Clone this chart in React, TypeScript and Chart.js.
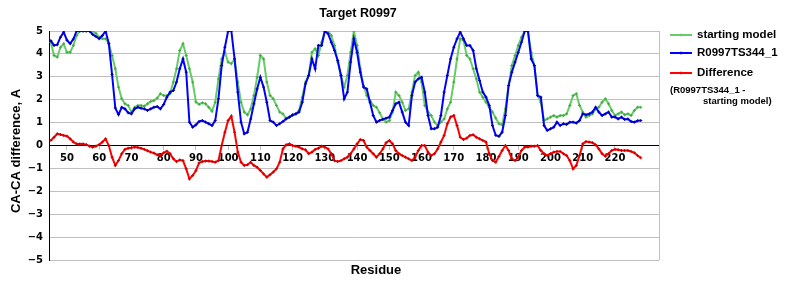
import React, { useEffect, useRef } from 'react';
import { Chart, registerables } from 'chart.js';

Chart.register(...registerables);

const CHART_TITLE = 'Target R0997';
const Y_TITLE = 'CA-CA difference, A';
const X_TITLE = 'Residue';
const FIRST_RESIDUE = 45;

const startingModel = [
  4.5, 3.93, 3.86, 4.29, 4.44, 4.07, 4.07, 4.37, 4.8, 5,
  5, 5, 5, 5, 4.9, 4.73, 4.66, 4.66, 4.44, 3.93,
  3.35, 2.55, 2.04, 1.82, 1.75, 1.46, 1.67, 1.75, 1.75, 1.72,
  1.82, 1.92, 1.96, 2.07, 2.26, 2.18, 2.18, 2.26, 2.77, 3.35,
  4.15, 4.44, 3.93, 3.35, 2.77, 1.9, 1.8, 1.86, 1.82, 1.67,
  1.5, 1.89, 2.91, 3.78, 4.07, 3.64, 3.57, 3.78, 2.77, 1.89,
  1.46, 1.34, 1.6, 2.18, 2.98, 3.93, 3.78, 2.77, 2.18, 2.04,
  1.75, 1.46, 1.38, 1.19, 1.24, 1.31, 1.38, 1.53, 2.11, 2.77,
  3.06, 4.07, 4.22, 3.93, 4.51, 5, 5, 4.8, 4.37, 3.64,
  3.06, 2.55, 3.06, 4.07, 5, 4.37, 3.35, 2.62, 2.18, 1.96,
  1.75, 1.67, 1.43, 1.16, 1.02, 1.09, 1.46, 2.33, 2.18, 1.89,
  1.53, 1.6, 2.33, 3.06, 3.2, 2.77, 1.75, 1.46, 1.31, 1.02,
  0.87, 1.02, 1.16, 1.6, 1.89, 2.77, 3.78, 4.66, 4.59, 3.93,
  3.78, 3.35, 2.91, 2.33, 2.11, 1.89, 1.67, 1.46, 1.2, 0.95,
  0.9, 1.6, 2.62, 3.49, 3.93, 4.37, 4.73, 5, 5, 4.07,
  3.49, 2.18, 1.89, 1.09, 1.16, 1.24, 1.31, 1.24, 1.31, 1.31,
  1.38, 1.75, 2.18, 2.26, 1.75, 1.46, 1.24, 1.31, 1.38, 1.6,
  1.67, 1.89, 2.04, 1.82, 1.53, 1.31, 1.38, 1.46, 1.34, 1.38,
  1.31, 1.53, 1.67, 1.67,
];

const model = [
  4.58, 4.37, 4.4, 4.73, 4.95, 4.6, 4.45, 4.65, 5, 5,
  5, 5, 5, 4.85, 4.76, 4.66, 4.8, 5, 4.45, 3.1,
  1.64, 1.35, 1.67, 1.6, 1.43, 1.38, 1.6, 1.67, 1.63, 1.6,
  1.53, 1.6, 1.67, 1.7, 1.6, 1.79, 2.11, 2.33, 2.4, 2.77,
  3.35, 3.78, 3.2, 1.02, 0.8, 0.9, 1.05, 1.09, 1.02, 0.95,
  0.87, 1.09, 2.04, 3.49, 4.29, 5, 5, 3.78, 2.33, 1.02,
  0.51, 0.58, 1.16, 1.82, 2.47, 2.98, 2.55, 1.89, 1.09, 1.02,
  0.87, 0.95, 1.05, 1.16, 1.24, 1.34, 1.38, 1.46, 1.89, 2.69,
  3.06, 3.78, 3.35, 4.37, 4.37, 5, 4.88, 4.51, 4.15, 3.71,
  3.06, 2.04, 2.33, 3.64, 4.66, 4.07, 3.2, 2.55, 2.47, 1.89,
  1.31, 1.02, 1.09, 1.14, 1.19, 1.24, 1.53, 1.82, 1.89, 1.46,
  1.02, 0.87, 2.18, 2.77, 2.91, 2.98, 2.33, 1.31, 0.73, 0.73,
  0.8, 1.31, 2.33, 3.06, 3.78, 4.29, 4.66, 4.95, 4.66, 4.37,
  4.37, 4.15, 3.35, 2.84, 2.33, 2.11, 1.75, 0.87, 0.45, 0.4,
  0.58, 1.31, 2.62, 3.2, 3.64, 4.07, 4.51, 5, 5, 3.78,
  3.49, 2.18, 2.11, 0.87, 0.66, 0.73, 0.8, 1.02, 0.87, 0.95,
  0.92, 1.02, 1.02, 0.98, 1.09, 1.38, 1.34, 1.38, 1.46, 1.67,
  1.46, 1.31, 1.38, 1.46, 1.24, 1.24, 1.16, 1.24, 1.14, 1.16,
  1.05, 1.02, 1.08, 1.09,
];

const difference = [
  0.22, 0.36, 0.51, 0.48, 0.44, 0.41, 0.29, 0.15, 0.07, 0.07,
  0.07, 0.04, -0.03, -0.07, -0.03, 0.04, 0.15, 0.29, 0, -0.51,
  -0.87, -0.66, -0.36, -0.17, -0.12, -0.1, -0.07, -0.09, -0.12, -0.17,
  -0.23, -0.29, -0.33, -0.41, -0.44, -0.32, -0.25, -0.36, -0.58, -0.7,
  -0.63, -0.66, -1.02, -1.46, -1.31, -1.1, -0.76, -0.7, -0.68, -0.68,
  -0.7, -0.73, -0.66, 0, 0.58, 1.09, 1.28, 0.58, -0.29, -0.73,
  -0.87, -0.84, -0.73, -0.87, -0.95, -1.09, -1.24, -1.38, -1.28, -1.16,
  -1.02, -0.73, -0.15, 0.03, 0.07, 0, -0.03, -0.07, -0.15, -0.19,
  -0.36, -0.29, -0.17, -0.12, -0.03, -0.07, -0.15, -0.36, -0.66, -0.7,
  -0.66, -0.58, -0.51, -0.36, -0.15, 0.07, 0.26, 0.22, -0.07, -0.22,
  -0.36, -0.51, -0.36, -0.15, 0.12, 0.22, 0.07, -0.22, -0.36, -0.44,
  -0.51, -0.58, -0.66, -0.51, -0.22, 0, 0, -0.29, -0.44, -0.36,
  -0.15, 0.15, 0.44, 0.95, 1.24, 1.31, 0.87, 0.36, 0.26, 0.32,
  0.44, 0.47, 0.36, 0.29, 0.22, 0.15, -0.36, -0.66, -0.73, -0.48,
  -0.22, 0, -0.22, -0.58, -0.66, -0.51, -0.22, -0.07, -0.07, -0.03,
  -0.03, 0, -0.22, -0.36, -0.44, -0.36, -0.29, -0.26, -0.26, -0.36,
  -0.44, -0.66, -1.02, -0.87, -0.44, 0.07, 0.17, 0.15, 0.12, 0.03,
  -0.15, -0.36, -0.47, -0.36, -0.22, -0.17, -0.19, -0.22, -0.22, -0.22,
  -0.26, -0.32, -0.44, -0.54,
];

const residues = startingModel.map((_, i) => FIRST_RESIDUE + i);
const xTickValues = [50, 60, 70, 80, 90, 100, 110, 120, 130, 140, 150, 160, 170, 180, 190, 200, 210, 220];

const GREEN = '#66cc66';
const BLUE = '#0000ff';
const RED = '#ff0000';
const GRID = '#c0c0c0';
const SANS = '"Liberation Sans", Arial, sans-serif';
const TICK_FONT = '"DejaVu Sans", Verdana, sans-serif';

const legendItems = [
  { label: 'starting model', color: GREEN, y: 27 },
  { label: 'R0997TS344_1', color: BLUE, y: 45 },
  { label: 'Difference', color: RED, y: 65 },
];

const textPlugin = {
  id: 'customTexts',
  beforeDatasetsDraw(chart: any) {
    const { ctx, chartArea } = chart;
    ctx.save();
    ctx.strokeStyle = GRID;
    ctx.lineWidth = 1;
    const xr = Math.round(chartArea.right) + 0.5;
    ctx.beginPath();
    ctx.moveTo(xr, chartArea.top);
    ctx.lineTo(xr, chartArea.bottom);
    ctx.stroke();
    ctx.restore();
  },
  afterDraw(chart: any) {
    const { ctx, chartArea } = chart;
    ctx.save();
    ctx.fillStyle = '#000';
    ctx.textAlign = 'center';
    ctx.textBaseline = 'middle';
    ctx.font = `bold 12.5px ${SANS}`;
    ctx.fillText(CHART_TITLE, 350, 6);

    ctx.font = `bold 13px ${SANS}`;
    ctx.fillText(X_TITLE, 368, 262);

    ctx.save();
    ctx.translate(8, 143);
    ctx.rotate(-Math.PI / 2);
    ctx.fillText(Y_TITLE, 0, 0);
    ctx.restore();

    // legend
    ctx.textAlign = 'left';
    legendItems.forEach((it) => {
      ctx.strokeStyle = it.color;
      ctx.lineWidth = 2;
      ctx.beginPath();
      ctx.moveTo(662, it.y);
      ctx.lineTo(684, it.y);
      ctx.stroke();
      ctx.lineWidth = 1;
      ctx.beginPath();
      ctx.moveTo(673, it.y - 1.5);
      ctx.lineTo(673, it.y + 1.5);
      ctx.stroke();
      ctx.fillStyle = '#000';
      ctx.font = `bold 11.5px ${SANS}`;
      ctx.fillText(it.label, 689, it.y);
    });
    ctx.font = `bold 9.5px ${SANS}`;
    ctx.fillText('(R0997TS344_1 -', 662, 82);
    ctx.fillText('starting model)', 695, 93);
    ctx.restore();
  },
};

export default function App() {
  const canvasRef = useRef<HTMLCanvasElement | null>(null);

  useEffect(() => {
    if (!canvasRef.current) return;
    const mk = (vals: number[]) => residues.map((r, i) => ({ x: r, y: vals[i] }));
    const common = {
      borderWidth: 2,
      pointRadius: 1.5,
      pointStyle: 'cross',
      pointBorderWidth: 1,
      tension: 0,
      fill: false,
    };
    const chart = new Chart(canvasRef.current, {
      type: 'line',
      data: {
        datasets: [
          { ...common, label: 'starting model', data: mk(startingModel), borderColor: GREEN, backgroundColor: GREEN, pointBorderColor: '#44aa44', order: 2 },
          { ...common, label: 'R0997TS344_1', data: mk(model), borderColor: BLUE, backgroundColor: BLUE, pointBorderColor: '#0000aa', order: 1 },
          { ...common, label: 'Difference (R0997TS344_1 - starting model)', data: mk(difference), borderColor: RED, backgroundColor: RED, pointBorderColor: '#cc0000', order: 0 },
        ] as any,
      },
      options: {
        animation: false,
        responsive: true,
        maintainAspectRatio: false,
        layout: { padding: { left: 0, right: 133, top: 23, bottom: 32 } },
        plugins: { legend: { display: false }, title: { display: false }, tooltip: { enabled: false } },
        scales: {
          x: {
            type: 'linear',
            min: 44.44,
            max: 233.65,
            position: { y: 0 } as any,
            afterBuildTicks: (axis: any) => {
              axis.ticks = xTickValues.map((v) => ({ value: v }));
            },
            grid: { display: true, drawOnChartArea: false, drawTicks: true, tickLength: 4, color: GRID },
            border: { display: true, color: '#000', width: 1 },
            ticks: {
              autoSkip: false,
              maxRotation: 0,
              padding: 3,
              color: '#000',
              font: { family: TICK_FONT, weight: 'bold', size: 10 },
            },
          },
          y: {
            type: 'linear',
            min: -5,
            max: 5,
            position: 'left',
            afterFit: (axis: any) => {
              axis.width = 41;
            },
            grid: {
              color: (c: any) => (c.tick && c.tick.value === 0 ? '#000' : GRID),
              drawTicks: false,
              lineWidth: 1,
            },
            border: { display: true, color: '#000', width: 1 },
            ticks: {
              stepSize: 1,
              padding: 6,
              color: '#000',
              font: { family: TICK_FONT, weight: 'bold', size: 10 },
              callback: (v: any) => (Number(v) < 0 ? '\u2212' + Math.abs(Number(v)) : String(v)),
            },
          },
        },
      } as any,
      plugins: [textPlugin],
    });
    return () => chart.destroy();
  }, []);

  return (
    <div style={{ width: 784, height: 284, position: 'relative' }}>
      <canvas ref={canvasRef} />
    </div>
  );
}
